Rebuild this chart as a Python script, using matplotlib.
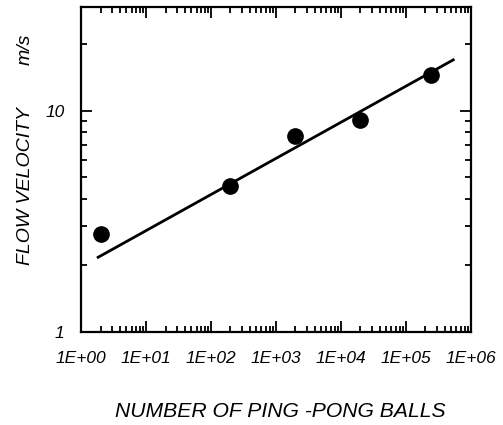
import numpy as np
import matplotlib
matplotlib.use("Agg")
import matplotlib.pyplot as plt
from matplotlib.ticker import LogLocator, FixedLocator, FixedFormatter, NullFormatter

plt.rcParams['font.family'] = ['Liberation Sans', 'DejaVu Sans']
plt.rcParams['font.style'] = 'italic'

# measured flow velocity vs number of balls
n_balls = [2.0, 200, 2000, 19500, 245000]
velocity = [2.78, 4.56, 7.65, 9.08, 14.5]

# fitted trend line (end points)
fit_n = [1.76, 5.6e5]
fit_v = [2.16, 17.1]

x_ticks = [1e0, 1e1, 1e2, 1e3, 1e4, 1e5, 1e6]
x_ticklabels = ['1E+00', '1E+01', '1E+02', '1E+03', '1E+04', '1E+05', '1E+06']
y_ticks = [1, 10]
y_ticklabels = ['1', '10']

fig = plt.figure(figsize=(5.03, 4.25), dpi=100)
ax = fig.add_axes([0.161, 0.219, 0.775, 0.765])

ax.plot(fit_n, fit_v, color='black', lw=2.0, solid_capstyle='butt', zorder=2)
ax.plot(n_balls, velocity, 'o', color='black', ms=11, zorder=3)

ax.set_xscale('log')
ax.set_yscale('log')
ax.set_xlim(1, 1e6)
ax.set_ylim(1, 29.5)

ax.xaxis.set_major_locator(FixedLocator(x_ticks))
ax.xaxis.set_major_formatter(FixedFormatter(x_ticklabels))
ax.xaxis.set_minor_locator(LogLocator(base=10, subs=np.arange(2, 10)))
ax.xaxis.set_minor_formatter(NullFormatter())
ax.yaxis.set_major_locator(FixedLocator(y_ticks))
ax.yaxis.set_major_formatter(FixedFormatter(y_ticklabels))
ax.yaxis.set_minor_locator(LogLocator(base=10, subs=np.arange(2, 10)))
ax.yaxis.set_minor_formatter(NullFormatter())

for s in ax.spines.values():
    s.set_linewidth(1.6)

ax.tick_params(which='both', direction='in', top=True, right=True, width=1.3, labelsize=12.5)
ax.tick_params(which='major', length=8)
ax.tick_params(which='minor', length=4)
ax.tick_params(axis='x', which='major', pad=14)
ax.tick_params(axis='y', which='major', pad=12)

# axis titles
fig.text(0.558, 0.031, 'NUMBER OF PING -PONG BALLS', fontsize=15.2, ha='center', va='center')
fig.text(0.05, 0.562, 'FLOW VELOCITY', rotation=90, fontsize=14, ha='center', va='center')
fig.text(0.05, 0.885, 'm/s', rotation=90, fontsize=14, ha='center', va='center')

fig.savefig('out.png', dpi=100)
